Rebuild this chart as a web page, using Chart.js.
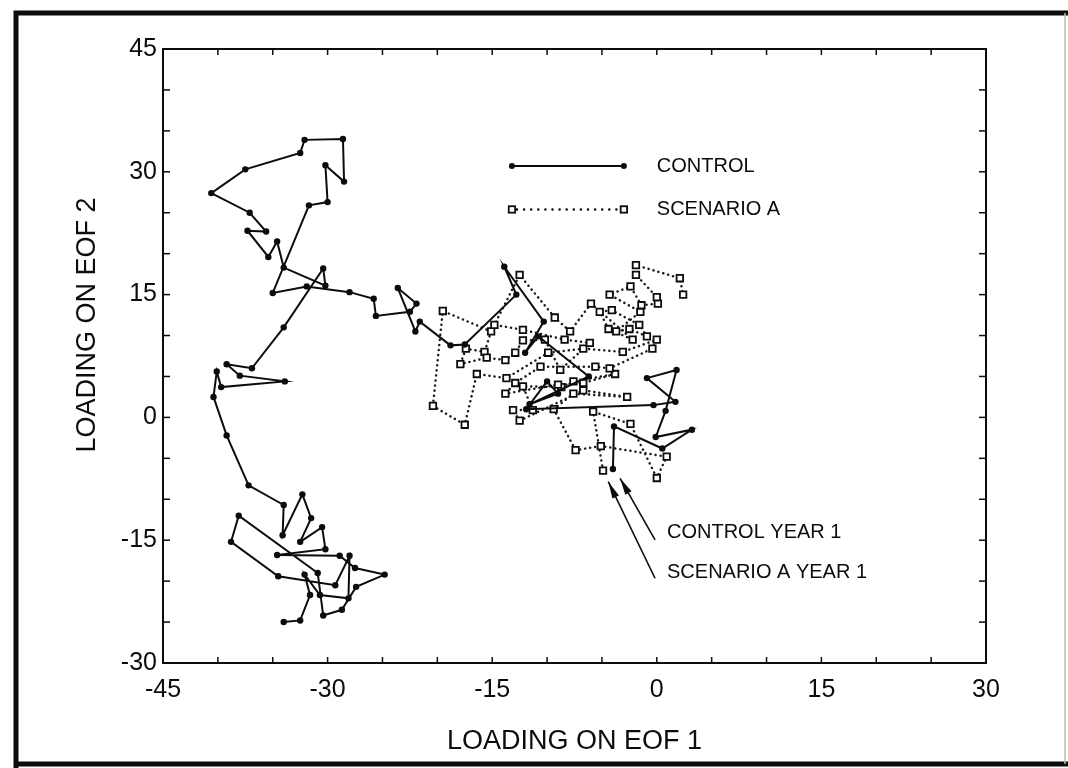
<!DOCTYPE html>
<html><head><meta charset="utf-8">
<script src="https://cdn.jsdelivr.net/npm/chart.js@4.4.1/dist/chart.umd.min.js"></script>
<style>html,body{margin:0;padding:0;background:#fff;}#wrap{width:1068px;height:768px;}</style>
</head><body><div id="wrap"><canvas id="c" width="1068" height="768"></canvas></div>
<script>
// ---------- DATA ----------
const controlX = [-4.0,-3.9,0.5,3.2,-0.1,0.8,1.8,-0.9,1.7,-0.3,-11.9,-10.0,-9.0,-11.6,-6.2,-10.8,-12.0,-10.3,-13.9,-12.8,-17.5,-18.8,-21.6,-22.0,-23.6,-21.9,-22.5,-25.6,-25.8,-28.0,-31.9,-35.0,-31.7,-30.0,-30.2,-28.5,-28.6,-32.1,-32.5,-37.5,-40.6,-37.1,-35.6,-37.3,-35.4,-34.6,-34.0,-30.2,-30.4,-34.0,-36.9,-39.2,-38.0,-33.9,-39.7,-40.1,-40.4,-39.2,-37.2,-34.0,-34.1,-32.3,-31.5,-32.5,-30.5,-30.2,-34.6,-28.9,-27.5,-24.8,-27.4,-28.7,-30.4,-30.9,-38.1,-38.8,-34.5,-29.3,-28.0,-28.1,-30.7,-32.1,-31.6,-32.5,-34.0];
const controlY = [-6.3,-1.1,-3.8,-1.5,-2.4,0.8,5.8,4.8,1.9,1.5,1.0,4.4,2.9,1.6,5.0,9.9,7.9,11.7,18.4,15.0,8.9,8.8,11.7,10.5,15.8,13.9,12.9,12.4,14.5,15.3,16.0,15.2,25.9,26.3,30.8,28.8,34.0,33.9,32.3,30.3,27.4,25.0,22.7,22.8,19.6,21.5,18.3,16.1,18.2,11.0,6.0,6.5,5.1,4.4,3.7,5.6,2.5,-2.2,-8.3,-10.7,-14.4,-9.4,-12.3,-15.2,-13.4,-16.1,-16.8,-16.9,-18.4,-19.2,-20.7,-23.5,-24.2,-19.0,-12.0,-15.2,-19.4,-20.5,-16.9,-22.1,-21.7,-19.2,-21.7,-24.8,-25.0];
const scenarioX = [-4.9,-5.8,-2.4,0.0,0.9,-5.1,-7.4,-9.4,-7.6,-2.7,-6.7,-12.5,-13.1,-11.3,-12.2,-8.7,-7.6,-3.8,-6.7,-9.0,-13.8,-12.9,-10.6,-5.6,-4.3,-0.4,0.0,-3.1,-6.7,-9.9,-13.7,-16.4,-17.5,-20.4,-19.5,-15.1,-15.7,-17.4,-17.9,-15.5,-13.8,-12.9,-12.2,-10.2,-8.8,-6.1,-8.4,-12.2,-14.8,-12.5,-9.3,-7.9,-6.0,-2.2,-4.4,-5.2,-4.1,-1.6,-0.9,-2.5,-3.7,-1.5,-4.3,-2.4,-1.4,0.1,0.0,-1.9,-1.9,2.1,2.4];
const scenarioY = [-6.5,0.7,-0.8,-7.4,-4.8,-3.5,-4.0,1.0,2.9,2.5,3.3,-0.4,0.9,0.9,3.8,3.7,4.4,5.3,4.2,4.0,2.9,4.2,6.2,6.2,6.0,8.4,9.5,8.0,8.4,7.9,4.8,5.3,-0.9,1.4,13.0,10.5,8.0,8.4,6.5,7.3,7.0,7.9,9.4,9.5,5.8,9.1,9.5,10.7,11.3,17.4,12.2,10.5,13.9,9.5,10.8,12.9,13.1,11.3,9.9,10.8,10.5,12.9,15.0,16.0,13.7,13.9,14.7,17.4,18.6,17.0,15.0];
const xTickLabels = [-45,-30,-15,0,15,30];
const yTickLabels = [-30,-15,0,15,30,45];
const seriesNames = ['CONTROL','SCENARIO A'];
const xTitle = 'LOADING ON EOF 1';
const yTitle = 'LOADING ON EOF 2';
const noteControl = 'CONTROL YEAR 1';
const noteScenario = 'SCENARIO A YEAR 1';

// ---------- CHART ----------
const FONT = "'Liberation Sans', Arial, Helvetica, sans-serif";
const INK = '#0c0c0c';
const controlPts = controlX.map((v,i)=>({x:v,y:controlY[i]}));
const scenarioPts = scenarioX.map((v,i)=>({x:v,y:scenarioY[i]}));

function seg(ctx,x0,y0,x1,y1){ctx.beginPath();ctx.moveTo(x0,y0);ctx.lineTo(x1,y1);ctx.stroke();}
function arrow(ctx,x0,y0,x1,y1){
  seg(ctx,x0,y0,x1,y1);
  const ang=Math.atan2(y1-y0,x1-x0), L=17, W=3.6;
  const bx=x1-L*Math.cos(ang), by=y1-L*Math.sin(ang);
  ctx.beginPath();ctx.moveTo(x1,y1);
  ctx.lineTo(bx+W*Math.sin(ang),by-W*Math.cos(ang));
  ctx.lineTo(bx-W*Math.sin(ang),by+W*Math.cos(ang));
  ctx.closePath();ctx.fill();
}

const overlay = {
  id:'overlay',
  afterDraw(chart){
    const {ctx, chartArea:a, scales:{x,y}} = chart;
    const X=v=>x.getPixelForValue(v), Y=v=>y.getPixelForValue(v);
    ctx.save();
    ctx.strokeStyle=INK; ctx.fillStyle=INK;
    // plot frame
    ctx.lineWidth=2;
    ctx.strokeRect(a.left,a.top,a.right-a.left,a.bottom-a.top);
    // inward ticks every 5 units
    ctx.lineWidth=1.5;
    for(let v=x.min; v<=x.max; v+=5){const p=X(v); seg(ctx,p,a.bottom,p,a.bottom-6); seg(ctx,p,a.top,p,a.top+6);}
    for(let v=y.min; v<=y.max; v+=5){const p=Y(v); seg(ctx,a.left,p,a.left+7,p); seg(ctx,a.right,p,a.right-7,p);}
    // outer figure border
    ctx.lineWidth=5;
    ctx.beginPath();ctx.moveTo(16,768);ctx.lineTo(16,13);ctx.lineTo(1068,13);ctx.stroke();
    ctx.beginPath();ctx.moveTo(14,764);ctx.lineTo(1068,764);ctx.stroke();
    ctx.lineWidth=1.5; ctx.strokeStyle='#bbb';
    seg(ctx,1065,13,1065,764);
    ctx.strokeStyle=INK;
    // y-axis title
    ctx.save();
    ctx.translate(88,325); ctx.rotate(-Math.PI/2);
    ctx.font='27px '+FONT; ctx.textAlign='center'; ctx.textBaseline='middle';
    ctx.fillText(yTitle,0,0);
    ctx.restore();
    // legend
    ctx.font='20px '+FONT; ctx.textAlign='left'; ctx.textBaseline='middle';
    const lx0=X(-13.2), lx1=X(-3.0), ly0=Y(30.7), ly1=Y(25.4), tx=X(0.0);
    ctx.lineWidth=2; seg(ctx,lx0,ly0,lx1,ly0);
    [lx0,lx1].forEach(p=>{ctx.beginPath();ctx.arc(p,ly0,3,0,Math.PI*2);ctx.fill();});
    ctx.fillText(seriesNames[0],tx,ly0);
    ctx.save(); ctx.setLineDash([0.1,7]); ctx.lineCap='round'; ctx.lineWidth=2.4;
    seg(ctx,lx0+5,ly1,lx1-5,ly1); ctx.restore();
    ctx.lineWidth=1.8; ctx.fillStyle='#fff';
    [lx0,lx1].forEach(p=>{ctx.fillRect(p-3.2,ly1-3.2,6.4,6.4);ctx.strokeRect(p-3.2,ly1-3.2,6.4,6.4);});
    ctx.fillStyle=INK;
    ctx.fillText(seriesNames[1],tx,ly1);
    // annotations
    ctx.fillText(noteControl,X(0.93),Y(-14.1));
    ctx.fillText(noteScenario,X(0.93),Y(-19.0));
    ctx.lineWidth=1.6;
    arrow(ctx,X(-0.16),Y(-14.97),X(-3.35),Y(-7.44));
    arrow(ctx,X(-0.16),Y(-19.65),X(-4.42),Y(-7.85));
    ctx.restore();
  }
};

new Chart(document.getElementById('c'),{
  type:'scatter',
  data:{datasets:[
    {label:seriesNames[0],data:controlPts,showLine:true,borderColor:INK,borderWidth:2,
     pointRadius:3.2,pointBackgroundColor:INK,pointBorderColor:INK,pointBorderWidth:0,pointStyle:'circle',clip:false},
    {label:seriesNames[1],data:scenarioPts,showLine:true,borderColor:'#1a1a1a',borderWidth:2.5,
     borderDash:[0.1,5],borderCapStyle:'round',
     pointStyle:'rect',pointRadius:4.6,pointBackgroundColor:'#fff',pointBorderColor:INK,pointBorderWidth:1.8,clip:false}
  ]},
  options:{
    responsive:false,animation:false,devicePixelRatio:1,
    layout:{padding:{left:0,top:49,right:82,bottom:0}},
    plugins:{legend:{display:false},tooltip:{enabled:false}},
    scales:{
      x:{type:'linear',position:'bottom',min:-45,max:30,
        afterFit:s=>{s.height=105;},
        grid:{display:false,drawTicks:false},border:{display:false},
        ticks:{stepSize:5,autoSkip:false,maxRotation:0,padding:12,color:INK,
          font:{family:FONT,size:25},
          callback:v=>xTickLabels.includes(v)?String(v):''},
        title:{display:true,text:xTitle,color:INK,font:{family:FONT,size:27},padding:{top:0,bottom:10}}},
      y:{type:'linear',position:'left',min:-30,max:45,
        afterFit:s=>{s.width=163;},
        grid:{display:false,drawTicks:false},border:{display:false},
        ticks:{stepSize:5,autoSkip:false,padding:6,color:INK,
          font:{family:FONT,size:25},
          callback:v=>yTickLabels.includes(v)?String(v):''},
        title:{display:false,text:yTitle}}
    }
  },
  plugins:[overlay]
});
</script></body></html>
